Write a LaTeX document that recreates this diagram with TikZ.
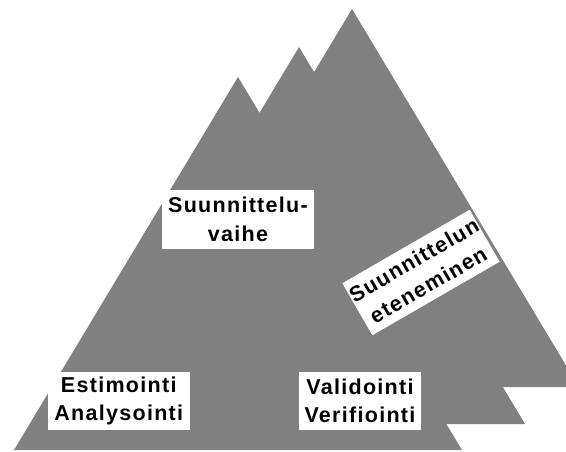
\documentclass[tikz,border=0pt]{standalone}
\usepackage{fontspec}
\setmainfont{Liberation Sans}[LetterSpace=6]
\definecolor{mountain}{HTML}{808080}
\begin{document}
\begin{tikzpicture}[x=1pt,y=1pt,
  peak/.style={fill=mountain, draw=none},
  labelbox/.style={fill=white, inner sep=0pt, align=center,
    font=\bfseries\fontsize{21.5}{28.5}\selectfont}]
\useasboundingbox (0,0) rectangle (566,451);

% three overlapping peaks, back to front
\begin{scope}
  \clip (0,0) rectangle (566,451);
  \fill[peak] (125,64) -- (352,442) -- (579,64) -- cycle;
  \fill[peak] (73,27)  -- (299,404) -- (525,27) -- cycle;
  \fill[peak] (14,1)   -- (238,374) -- (462,1)  -- cycle;
\end{scope}

% labels
\node[labelbox, minimum width=152pt, minimum height=59pt] (phase) at (238,231.5)
  {Suunnittelu-\\vaihe};
\node[labelbox, minimum width=141.5pt, minimum height=58pt] (estim) at (118.75,50)
  {Estimointi\\Analysointi};
\node[labelbox, minimum width=122pt, minimum height=58pt] (valid) at (360,50)
  {Validointi\\Verifiointi};
\node[labelbox, minimum width=147pt, minimum height=60pt, rotate=30] (progress) at (421,178.5)
  {Suunnittelun\\eteneminen};
\end{tikzpicture}
\end{document}
